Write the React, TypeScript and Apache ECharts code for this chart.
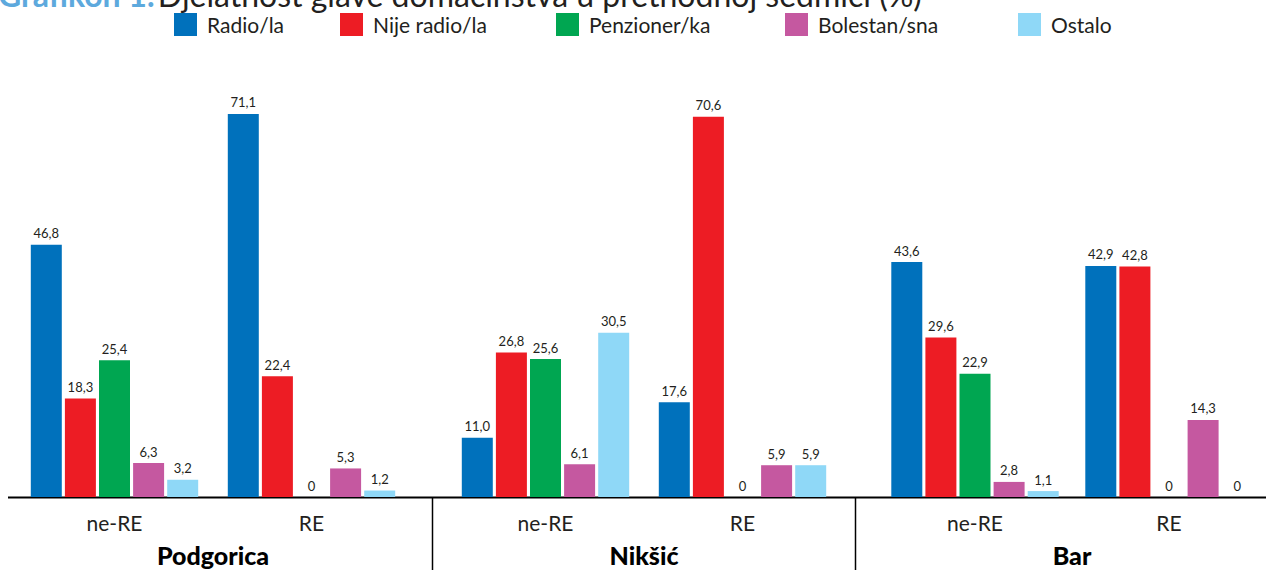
import React, { useEffect, useRef } from "react";
import * as echarts from "echarts";

const categories = ["ne-RE", "RE"];
const cities = ["Podgorica", "Nikšić", "Bar"];
const seriesNames = ["Radio/la", "Nije radio/la", "Penzioner/ka", "Bolestan/sna", "Ostalo"];
const colors = ["#0071BC", "#ED1C24", "#00A651", "#C558A0", "#8FD8F7"];
// order: Podgorica ne-RE, RE, Nikšić ne-RE, RE, Bar ne-RE, RE
const radio = [46.8, 71.1, 11.0, 17.6, 43.6, 42.9];
const nijeRadio = [18.3, 22.4, 26.8, 70.6, 29.6, 42.8];
const penzioner = [25.4, 0, 25.6, 0, 22.9, 0];
const bolestan = [6.3, 5.3, 6.1, 5.9, 2.8, 14.3];
const ostalo = [3.2, 1.2, 30.5, 5.9, 1.1, 0];
const allSeries = [radio, nijeRadio, penzioner, bolestan, ostalo];

const FONT = "Lato";
const TXT = "#231F20";

export default function App() {
  const ref = useRef<HTMLDivElement>(null);
  useEffect(() => {
    const chart = echarts.init(ref.current!, null, { renderer: "svg" });
    const gridLefts = [16, 447, 878];
    const gridW = 394;
    const grids = gridLefts.map((l) => ({ left: l, width: gridW, top: 66, height: 431 }));
    const xAxes: any[] = [];
    const yAxes: any[] = [];
    const series: any[] = [];
    cities.forEach((city, gi) => {
      xAxes.push({
        type: "category",
        gridIndex: gi,
        data: categories,
        axisLine: { show: false },
        axisTick: { show: false },
        axisLabel: { fontFamily: FONT, fontSize: 21, color: TXT, margin: 15 },
      });
      xAxes.push({
        type: "category",
        gridIndex: gi,
        position: "bottom",
        data: [city],
        axisLine: { show: false },
        axisTick: { show: false },
        axisLabel: { fontFamily: FONT, fontSize: 25, fontWeight: 900, color: "#000", margin: 45 },
      });
      yAxes.push({
        type: "value",
        gridIndex: gi,
        min: 0,
        max: 80,
        show: false,
        splitLine: { show: false },
      });
      allSeries.forEach((arr, si) => {
        series.push({
          type: "bar",
          name: seriesNames[si],
          xAxisIndex: gi * 2,
          yAxisIndex: gi,
          data: arr.slice(gi * 2, gi * 2 + 2),
          barWidth: 31,
          barGap: "10%",
          itemStyle: { color: colors[si] },
          label: {
            show: true,
            position: "top",
            distance: 5,
            fontFamily: FONT,
            fontSize: 13,
            color: TXT,
            formatter: (p: any) => (p.value === 0 ? "0" : Number(p.value).toFixed(1).replace(".", ",")),
          },
        });
      });
    });
    const legendLefts = [174, 340, 556, 785, 1018];
    const legends = seriesNames.map((n, i) => ({
      data: [n],
      left: legendLefts[i],
      top: 13,
      padding: 0,
      itemWidth: 23,
      itemHeight: 23,
      icon: "rect",
      selectedMode: false,
      textStyle: { fontFamily: FONT, fontSize: 21, color: TXT, padding: [0, 0, 0, 5] },
    }));
    chart.setOption({
      animation: false,
      grid: grids,
      xAxis: xAxes,
      yAxis: yAxes,
      legend: legends,
      series,
      graphic: [
        {
          type: "line",
          shape: { x1: 8, y1: 497.5, x2: 1266, y2: 497.5 },
          style: { stroke: "#000", lineWidth: 2 },
        },
        {
          type: "line",
          shape: { x1: 432.5, y1: 497, x2: 432.5, y2: 570 },
          style: { stroke: "#000", lineWidth: 1.5 },
        },
        {
          type: "line",
          shape: { x1: 855.5, y1: 497, x2: 855.5, y2: 570 },
          style: { stroke: "#000", lineWidth: 1.5 },
        },
        {
          type: "text",
          x: -2,
          y: 10,
          style: {
            text: "{a|Grafikon 1.} {b|Djelatnost glave domaćinstva u prethodnoj sedmici (%)}",
            verticalAlign: "bottom",
            rich: {
              a: { fontFamily: FONT, fontSize: 32, fontWeight: "bold", fill: "#5DA9DD" },
              b: { fontFamily: FONT, fontSize: 32, fill: TXT },
            },
          },
        },
      ],
    });
    return () => chart.dispose();
  }, []);
  return (
    <div
      ref={ref}
      style={{ position: "absolute", left: 0, top: 0, width: 1266, height: 570 }}
    />
  );
}
